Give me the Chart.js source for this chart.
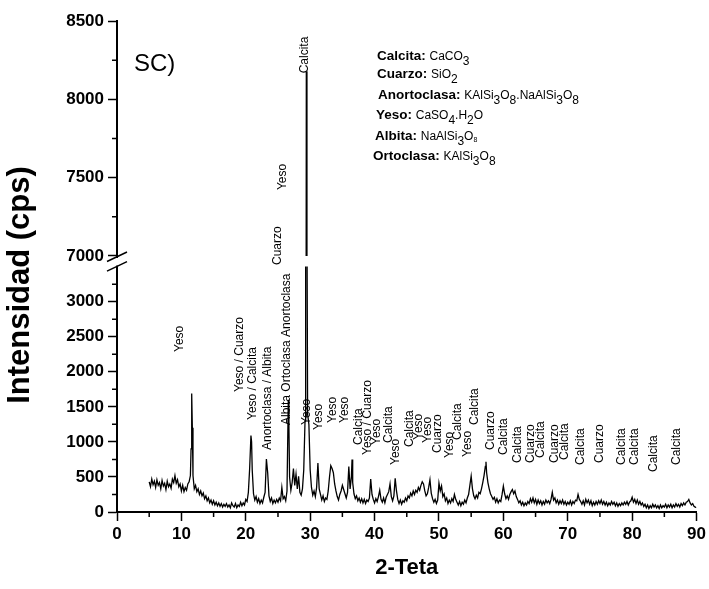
<!DOCTYPE html>
<html>
<head>
<meta charset="utf-8">
<script src="https://cdn.jsdelivr.net/npm/chart.js@4.4.0/dist/chart.umd.min.js"></script>
<style>
  body { margin: 0; background: #fff; }
</style>
</head>
<body>
<canvas id="xrd" width="709" height="589"></canvas>
<script>
// XRD scan, [2-theta, counts]
const scan = [
  [5.0,430],[5.2,360],[5.4,470],[5.6,390],[5.8,440],[6.0,350],[6.2,460],[6.4,380],[6.6,420],[6.8,330],
  [7.0,450],[7.2,370],[7.4,410],[7.6,320],[7.8,440],[8.0,360],[8.2,400],[8.4,340],[8.6,470],[8.8,420],
  [9.0,520],[9.2,410],[9.4,460],[9.6,360],[9.8,400],[10.0,300],[10.2,380],[10.4,290],[10.6,350],[10.8,310],
  [11.0,400],[11.2,430],[11.4,520],[11.5,900],[11.6,1690],[11.7,1200],[11.8,520],
  [12.0,330],[12.2,380],[12.4,290],[12.6,330],[12.8,250],[13.0,300],[13.2,230],[13.4,270],[13.6,190],[13.8,230],
  [14.0,160],[14.2,200],[14.4,130],[14.6,170],[14.8,110],[15.0,160],[15.2,100],[15.4,140],[15.6,90],[15.8,130],
  [16.0,80],[16.2,120],[16.4,70],[16.6,110],[16.8,80],[17.0,120],[17.2,70],[17.4,100],[17.6,60],[17.8,130],
  [18.0,90],[18.2,70],[18.4,120],[18.6,60],[18.8,100],[19.0,80],[19.2,140],[19.4,90],[19.6,130],[19.8,100],
  [20.0,180],[20.2,150],[20.4,280],[20.6,620],[20.8,1090],[20.9,1000],[21.0,600],[21.2,260],[21.4,170],[21.6,220],[21.8,140],
  [22.0,190],[22.2,120],[22.4,170],[22.6,130],[22.8,210],[23.0,280],[23.2,755],[23.4,560],[23.6,230],[23.8,150],
  [24.0,200],[24.2,120],[24.4,170],[24.6,130],[24.8,180],[25.0,140],[25.2,200],[25.4,160],[25.6,350],[25.8,190],
  [26.0,220],[26.2,160],[26.4,300],[26.6,1600],[26.7,1200],[26.8,500],[27.0,310],[27.2,420],[27.4,620],[27.6,380],[27.8,540],
  [28.0,330],[28.2,510],[28.4,280],[28.6,240],[28.8,330],[29.0,600],[29.2,1300],[29.3,3500],[29.4,8180],[29.5,4200],[29.6,1400],[29.8,1250],
  [30.0,600],[30.2,350],[30.4,240],[30.6,300],[30.8,220],[31.0,350],[31.2,700],[31.4,330],[31.6,250],[31.8,170],
  [32.0,230],[32.2,150],[32.4,200],[32.6,180],[32.8,300],[33.0,500],[33.2,660],[33.4,620],[33.6,560],[33.8,400],
  [34.0,300],[34.2,220],[34.4,170],[34.6,250],[34.8,300],[35.0,380],[35.2,320],[35.4,260],[35.6,200],[35.8,280],
  [36.0,650],[36.2,330],[36.4,500],[36.5,750],[36.6,420],[36.8,260],[37.0,190],[37.2,230],[37.4,160],[37.6,200],[37.8,140],
  [38.0,190],[38.2,130],[38.4,180],[38.6,120],[38.8,170],[39.0,150],[39.2,200],[39.4,470],[39.6,250],[39.8,180],
  [40.0,130],[40.2,190],[40.4,150],[40.6,220],[40.8,310],[41.0,180],[41.2,140],[41.4,200],[41.6,130],[41.8,210],
  [42.0,250],[42.2,290],[42.4,400],[42.6,220],[42.8,160],[43.0,230],[43.2,480],[43.4,300],[43.6,180],[43.8,120],
  [44.0,170],[44.2,110],[44.4,160],[44.6,140],[44.8,200],[45.0,160],[45.2,230],[45.4,200],[45.6,270],[45.8,230],
  [46.0,300],[46.2,250],[46.4,310],[46.6,280],[46.8,350],[47.0,310],[47.2,380],[47.4,430],[47.6,400],[47.8,300],
  [48.0,230],[48.2,260],[48.4,350],[48.6,460],[48.8,270],[49.0,190],[49.2,140],[49.4,180],[49.6,120],[49.8,170],
  [50.0,410],[50.2,300],[50.4,370],[50.6,220],[50.8,260],[51.0,160],[51.2,200],[51.4,120],[51.6,170],[51.8,130],
  [52.0,190],[52.2,150],[52.4,250],[52.6,180],[52.8,140],[53.0,100],[53.2,150],[53.4,90],[53.6,140],[53.8,110],
  [54.0,170],[54.2,130],[54.4,200],[54.6,250],[54.8,380],[55.0,510],[55.2,330],[55.4,230],[55.6,190],[55.8,240],
  [56.0,200],[56.2,280],[56.4,260],[56.6,330],[56.8,420],[57.0,520],[57.2,650],[57.3,715],[57.4,560],[57.6,420],[57.8,330],
  [58.0,260],[58.2,220],[58.4,180],[58.6,210],[58.8,140],[59.0,190],[59.2,130],[59.4,170],[59.6,150],[59.8,250],
  [60.0,370],[60.2,260],[60.4,190],[60.6,230],[60.8,180],[61.0,250],[61.2,290],[61.4,320],[61.6,260],[61.8,300],
  [62.0,220],[62.2,180],[62.4,130],[62.6,160],[62.8,100],[63.0,140],[63.2,90],[63.4,130],[63.6,100],[63.8,150],
  [64.0,120],[64.2,190],[64.4,140],[64.6,200],[64.8,130],[65.0,180],[65.2,110],[65.4,170],[65.6,120],[65.8,160],
  [66.0,100],[66.2,150],[66.4,110],[66.6,170],[66.8,130],[67.0,160],[67.2,120],[67.4,180],[67.6,280],[67.8,170],
  [68.0,200],[68.2,130],[68.4,170],[68.6,110],[68.8,160],[69.0,120],[69.2,170],[69.4,110],[69.6,150],[69.8,100],
  [70.0,140],[70.2,110],[70.4,160],[70.6,100],[70.8,150],[71.0,120],[71.2,170],[71.4,160],[71.6,250],[71.8,180],
  [72.0,150],[72.2,110],[72.4,160],[72.6,100],[72.8,180],[73.0,130],[73.2,170],[73.4,110],[73.6,160],[73.8,90],
  [74.0,140],[74.2,100],[74.4,150],[74.6,110],[74.8,160],[75.0,120],[75.2,170],[75.4,110],[75.6,150],[75.8,100],
  [76.0,140],[76.2,90],[76.4,130],[76.6,100],[76.8,150],[77.0,110],[77.2,140],[77.4,90],[77.6,130],[77.8,80],
  [78.0,120],[78.2,90],[78.4,130],[78.6,100],[78.8,140],[79.0,110],[79.2,150],[79.4,100],[79.6,140],[79.8,160],
  [80.0,210],[80.2,140],[80.4,180],[80.6,120],[80.8,170],[81.0,110],[81.2,150],[81.4,100],[81.6,130],[81.8,80],
  [82.0,110],[82.2,60],[82.4,100],[82.6,50],[82.8,90],[83.0,60],[83.2,110],[83.4,70],[83.6,100],[83.8,60],
  [84.0,90],[84.2,50],[84.4,100],[84.6,60],[84.8,90],[85.0,70],[85.2,110],[85.4,60],[85.6,100],[85.8,70],
  [86.0,110],[86.2,60],[86.4,100],[86.6,70],[86.8,120],[87.0,80],[87.2,110],[87.4,70],[87.6,120],[87.8,90],
  [88.0,130],[88.2,100],[88.4,140],[88.6,150],[88.8,180],[89.0,130],[89.2,100],[89.4,120],[89.6,80],[89.8,70],
  [90.0,60]
];

const lowTicks = [0, 500, 1000, 1500, 2000, 2500, 3000];
const topTicks = [7000, 7500, 8000, 8500];
const xTicks = [0, 10, 20, 30, 40, 50, 60, 70, 80, 90];

// phase labels over the peaks: name, 2-theta, intensity where the text starts
const peakNames = ['Yeso', 'Yeso / Cuarzo', 'Yeso / Calcita', 'Anortoclasa / Albita', 'Albita Ortoclasa Anortoclasa',
  'Cuarzo', 'Yeso', 'Calcita', 'Yeso', 'Yeso', 'Yeso', 'Yeso', 'Calcita', 'Yeso / Cuarzo', 'Yeso',
  'Calcita', 'Yeso', 'Calcita', 'Yeso', 'Yeso', 'Cuarzo', 'Yeso', 'Calcita', 'Yeso', 'Calcita',
  'Cuarzo', 'Calcita', 'Calcita', 'Cuarzo', 'Calcita', 'Cuarzo', 'Calcita', 'Calcita', 'Cuarzo',
  'Calcita', 'Calcita', 'Calcita', 'Calcita'];
const peakPos = [9.8, 19.05, 21.1, 23.45, 26.3,
  24.95, 25.8, 29.1, 29.5, 31.3, 33.5, 35.3, 37.6, 38.9, 40.3,
  42.25, 43.3, 45.4, 46.9, 48.2, 49.8, 51.6, 52.9, 54.4, 55.5,
  58.0, 60.1, 62.3, 64.2, 65.8, 68.0, 69.6, 72.0, 74.9,
  78.4, 80.4, 83.3, 86.95];
const peakTop = [2282, 1712, 1312, 884, 1241,
  3523, 7421, 8166, 1241, 1170, 1270, 1270, 956, 813, 956,
  984, 670, 927, 1027, 984, 842, 770, 1027, 785, 1241,
  884, 813, 699, 699, 770, 699, 742, 670, 699,
  670, 670, 571, 670];

const minerals = ['Calcita:', 'Cuarzo:', 'Anortoclasa:', 'Yeso:', 'Albita:', 'Ortoclasa:'];
// formula pieces: [text, 0 normal | 1 subscript | 2 small subscript]
const formulas = [
  [['CaCO', 0], ['3', 1]],
  [['SiO', 0], ['2', 1]],
  [['KAlSi', 0], ['3', 1], ['O', 0], ['8', 1], ['.NaAlSi', 0], ['3', 1], ['O', 0], ['8', 1]],
  [['CaSO', 0], ['4', 1], ['.H', 0], ['2', 1], ['O', 0]],
  [['NaAlSi', 0], ['3', 1], ['O', 0], ['8', 2]],
  [['KAlSi', 0], ['3', 1], ['O', 0], ['8', 1]]
];

const FONT = 'Liberation Sans, Arial, sans-serif';
Chart.defaults.font.family = FONT;
Chart.defaults.color = '#000';

const points = scan.map(p => ({ x: p[0], y: p[1] }));

const extras = {
  id: 'extras',
  beforeDatasetDraw(chart, args) {
    const ds = chart.data.datasets[args.index];
    const sc = chart.scales[ds.yAxisID];
    const a = chart.chartArea;
    let top, bottom;
    if (ds.yAxisID === 'yTop') {
      top = a.top - 2;
      bottom = sc.getPixelForValue(7000);
    } else {
      top = sc.getPixelForValue(3500);
      bottom = a.bottom + 2;
    }
    const ctx = chart.ctx;
    ctx.save();
    ctx.beginPath();
    ctx.rect(a.left, top, a.right - a.left, bottom - top);
    ctx.clip();
  },
  afterDatasetDraw(chart) {
    chart.ctx.restore();
  },
  afterDraw(chart) {
    const ctx = chart.ctx;
    const a = chart.chartArea;
    const x = chart.scales.x, yLow = chart.scales.yLow, yTop = chart.scales.yTop;

    ctx.save();
    ctx.strokeStyle = '#000';
    ctx.lineWidth = 1.5;
    // minor ticks
    ctx.beginPath();
    for (let i = 0; i < xTicks.length - 1; i++) {
      const px = x.getPixelForValue((xTicks[i] + xTicks[i + 1]) / 2);
      ctx.moveTo(px, a.bottom);
      ctx.lineTo(px, a.bottom + 5);
    }
    for (const v of lowTicks) {
      const py = yLow.getPixelForValue(v + 250);
      ctx.moveTo(a.left - 5, py);
      ctx.lineTo(a.left, py);
    }
    for (let i = 0; i < topTicks.length - 1; i++) {
      const py = yTop.getPixelForValue(topTicks[i] + 250);
      ctx.moveTo(a.left - 5, py);
      ctx.lineTo(a.left, py);
    }
    ctx.stroke();

    // axis break
    const p7 = yTop.getPixelForValue(7000);
    const p35 = yLow.getPixelForValue(3500);
    ctx.fillStyle = '#fff';
    ctx.fillRect(a.left - 3, p7 + 2, 6, p35 - p7 - 3);
    ctx.beginPath();
    ctx.moveTo(a.left - 10, p7 + 5.5);
    ctx.lineTo(a.left + 10, p7 - 4);
    ctx.moveTo(a.left - 10, p35 + 4.5);
    ctx.lineTo(a.left + 10, p35 - 5);
    ctx.stroke();

    // peak labels
    ctx.fillStyle = '#000';
    ctx.font = '12px ' + FONT;
    ctx.textAlign = 'left';
    ctx.textBaseline = 'middle';
    peakNames.forEach((name, i) => {
      const sc = peakTop[i] >= 7000 ? yTop : yLow;
      ctx.save();
      ctx.translate(x.getPixelForValue(peakPos[i]), sc.getPixelForValue(peakTop[i]));
      ctx.rotate(-Math.PI / 2);
      ctx.fillText(name, 0, 0);
      ctx.restore();
    });

    // sample tag
    ctx.textBaseline = 'alphabetic';
    ctx.font = '24px ' + FONT;
    ctx.fillText('SC)', 134, 71);

    // y title
    ctx.save();
    ctx.translate(20, 285);
    ctx.rotate(-Math.PI / 2);
    ctx.textAlign = 'center';
    ctx.textBaseline = 'middle';
    ctx.font = 'bold 31px ' + FONT;
    ctx.fillText('Intensidad (cps)', 0, 0);
    ctx.restore();

    // mineral formulas
    const rows = [[377, 60], [377, 78], [378, 99], [376, 119], [375, 140], [373, 160]];
    minerals.forEach((m, i) => {
      let [cx, cy] = rows[i];
      ctx.font = 'bold 13.5px ' + FONT;
      ctx.fillText(m, cx, cy);
      cx += ctx.measureText(m + ' ').width;
      for (const [t, k] of formulas[i]) {
        if (k === 2) {
          ctx.font = '7px ' + FONT;
          ctx.fillText(t, cx, cy + 2);
        } else {
          ctx.font = '12px ' + FONT;
          ctx.fillText(t, cx, cy + (k ? 5 : 0));
        }
        cx += ctx.measureText(t).width;
      }
    });
    ctx.restore();
  }
};

const tickFont = { size: 17, weight: 'bold' };
const plain = v => String(v);
const yCommon = {
  type: 'linear',
  position: 'left',
  stack: 'y',
  offset: false,
  grid: { drawOnChartArea: false, tickLength: 9, tickWidth: 1.5, tickColor: '#000' },
  border: { color: '#000', width: 2 },
  ticks: { font: tickFont, color: '#000', padding: 4, callback: plain },
  afterFit(scale) { scale.width = 60; }
};

new Chart(document.getElementById('xrd'), {
  type: 'line',
  data: {
    datasets: [
      { data: points, xAxisID: 'x', yAxisID: 'yLow', borderColor: '#000', borderWidth: 1.3, pointRadius: 0, tension: 0 },
      { data: points, xAxisID: 'x', yAxisID: 'yTop', borderColor: '#000', borderWidth: 1.3, pointRadius: 0, tension: 0 }
    ]
  },
  options: {
    responsive: false,
    animation: false,
    layout: { padding: { left: 57, right: 11, top: 21, bottom: 5 } },
    plugins: { legend: { display: false }, tooltip: { enabled: false } },
    scales: {
      x: {
        type: 'linear', min: 0, max: 90,
        grid: { drawOnChartArea: false, tickLength: 9, tickWidth: 1.5, tickColor: '#000' },
        border: { color: '#000', width: 2 },
        ticks: { font: tickFont, color: '#000', padding: 3, maxRotation: 0, callback: plain },
        afterBuildTicks(scale) { scale.ticks = xTicks.map(v => ({ value: v })); },
        title: { display: true, text: '2-Teta', font: { size: 22, weight: 'bold' }, color: '#000', padding: { top: 4, bottom: 3 } },
        afterFit(scale) { scale.height = 72; }
      },
      yLow: Object.assign({}, yCommon, {
        min: 0, max: 3580, stackWeight: 251, weight: 1,
        afterBuildTicks(scale) { scale.ticks = lowTicks.map(v => ({ value: v })); }
      }),
      yTop: Object.assign({}, yCommon, {
        min: 6968, max: 8500, stackWeight: 240, weight: 2,
        afterBuildTicks(scale) { scale.ticks = topTicks.map(v => ({ value: v })); }
      })
    }
  },
  plugins: [extras]
});
</script>
</body>
</html>
